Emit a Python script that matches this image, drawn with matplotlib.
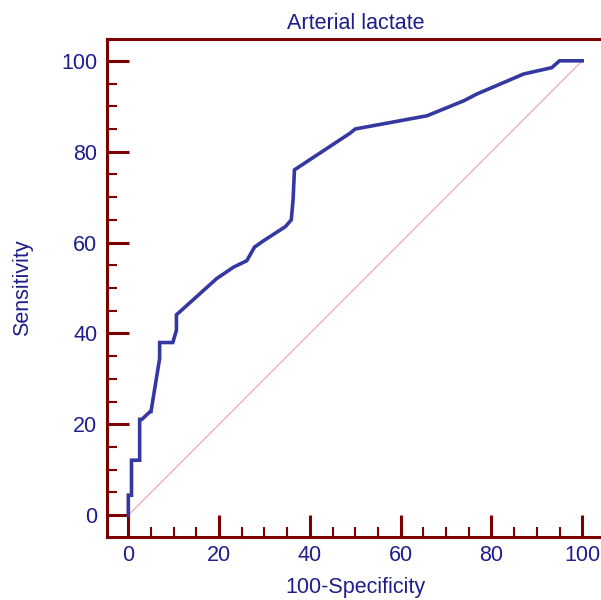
import matplotlib
matplotlib.use("Agg")
import matplotlib.pyplot as plt
from matplotlib.ticker import MultipleLocator

# ROC curve (100-Specificity, Sensitivity)
fpr = [0.0, 0.0, 0.7, 0.7, 2.5, 2.5, 3.0, 4.8, 5.0, 6.9, 6.9, 9.8, 10.6, 10.6,
       19.5, 23.2, 26.1, 27.8, 29.8, 34.6, 35.9, 36.3, 36.6, 48.9, 50.0,
       65.8, 73.9, 76.8, 87.1, 93.3, 95.0, 100.0]
tpr = [0.0, 4.4, 4.4, 12.1, 12.1, 21.1, 21.1, 22.8, 22.8, 34.5, 38.0, 38.0, 40.7, 44.1,
       52.1, 54.6, 56.0, 59.0, 60.4, 63.5, 65.0, 69.4, 76.0, 84.1, 85.0,
       87.9, 91.2, 92.7, 97.1, 98.5, 100.0, 100.0]

TITLE = "Arterial lactate"
XLABEL = "100-Specificity"
YLABEL = "Sensitivity"

SPINE = "#7d0000"
TEXT = "#1e1e8c"
CURVE = "#3538a0"
DIAG = "#e6b4b4"
FS = 15.5

plt.rcParams["font.family"] = ["Liberation Sans", "DejaVu Sans"]

fig = plt.figure(figsize=(6.01, 6.0), dpi=100)
ax = fig.add_axes([0.178, 0.105, 0.827, 0.83])

ax.plot([0, 100], [0, 100], color=DIAG, lw=1.0, zorder=1)
ax.plot(fpr, tpr, color=CURVE, lw=2.6, solid_joinstyle="miter", zorder=3)

ax.set_xlim(-4.7, 104.8)
ax.set_ylim(-4.8, 104.8)

for side in ("top", "right", "left", "bottom"):
    ax.spines[side].set_color(SPINE)
    ax.spines[side].set_linewidth(2.2)
# the right edge of the frame falls just outside the picture
ax.spines["right"].set_visible(False)

ax.xaxis.set_major_locator(MultipleLocator(20))
ax.yaxis.set_major_locator(MultipleLocator(20))
ax.set_xticks([t for t in range(0, 101, 5)], minor=True)
ax.set_yticks([t for t in range(0, 101, 5)], minor=True)

ax.tick_params(which="major", direction="in", length=15.5, width=2.2, color=SPINE,
               labelsize=FS, labelcolor=TEXT, top=False, right=False)
ax.tick_params(which="minor", direction="in", length=7.5, width=1.5, color=SPINE,
               top=False, right=False)
ax.tick_params(axis="y", which="major", pad=7)
ax.tick_params(axis="x", which="major", pad=6)

ax.set_title(TITLE, fontsize=FS, color=TEXT, pad=7.5)
ax.set_xlabel(XLABEL, fontsize=FS, color=TEXT, labelpad=8)
ax.set_ylabel(YLABEL, fontsize=FS, color=TEXT, labelpad=20)

fig.savefig("out.png", dpi=100)
